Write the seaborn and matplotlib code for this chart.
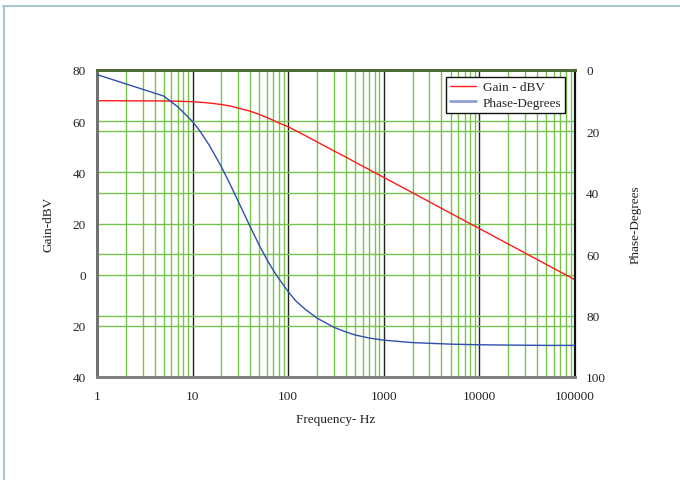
import numpy as np
import pandas as pd
import matplotlib
matplotlib.use("Agg")
import matplotlib.pyplot as plt
import matplotlib.ticker as mticker
from matplotlib.transforms import blended_transform_factory
from matplotlib.lines import Line2D
import seaborn as sns

# ---- data ----
freq_hz = [1, 5, 7, 10, 12, 15, 20, 25, 30, 40, 50, 60, 70, 80, 100, 120, 150,
           200, 300, 400, 500, 700, 1000, 2000, 5000, 10000, 20000, 50000, 100000]
gain_dbv = [68.0, 67.9, 67.8, 67.6, 67.4, 67.1, 66.5, 65.9, 65.1, 63.9, 62.6,
            61.4, 60.3, 59.3, 57.8, 56.3, 54.4, 51.9, 48.4, 46.0, 44.0, 41.1,
            38.0, 32.0, 24.0, 18.0, 12.0, 4.0, -2.0]
phase_deg = [1.5, 8.5, 12.0, 16.8, 20.0, 24.6, 31.5, 37.6, 42.8, 51.0, 57.2,
             61.8, 65.3, 68.0, 72.2, 75.2, 77.9, 80.8, 83.8, 85.3, 86.3, 87.3,
             88.0, 88.8, 89.3, 89.5, 89.6, 89.7, 89.7]

x_ticks = [1, 10, 100, 1000, 10000, 100000]
x_tick_labels = ["1", "10", "100", "1000", "10000", "100000"]
gain_ticks = [80, 60, 40, 20, 0, -20, -40]
gain_tick_labels = ["80", "60", "40", "20", "0", "20", "40"]
phase_ticks = [0, 20, 40, 60, 80, 100]
phase_tick_labels = ["0", "20", "40", "60", "80", "100"]

df = pd.DataFrame({"freq": freq_hz, "gain": gain_dbv, "phase": phase_deg})

sns.set_theme(style="white")
plt.rcParams["font.family"] = ["Liberation Serif", "DejaVu Serif"]

fig = plt.figure(figsize=(6.8, 4.81), dpi=100)
ax = fig.add_axes([97/680, 1-378/481, (575-97)/680, (378-71)/481])
ax2 = ax.twinx()

GREEN = "#78c24e"
ax.set_xscale("log")
ax.set_xlim(1, 100000)
ax.set_ylim(-40, 80)
ax2.set_ylim(100, 0)

# grid lines
ax.set_xticks(x_ticks)
ax.xaxis.set_minor_locator(mticker.LogLocator(base=10, subs=np.arange(2, 10), numticks=20))
ax.xaxis.set_minor_formatter(mticker.NullFormatter())
ax.grid(which="minor", axis="x", color=GREEN, lw=1.0)
ax.grid(which="major", axis="x", color="#222222", lw=1.0)
ax.set_yticks(gain_ticks)
ax.grid(which="major", axis="y", color=GREEN, lw=1.0)
tr = blended_transform_factory(ax.transAxes, ax2.transData)
for v in phase_ticks[1:-1]:
    ax.plot([0, 1], [v, v], transform=tr, color=GREEN, lw=1.0, zorder=0.6)

sns.lineplot(data=df, x="freq", y="gain", ax=ax, color="#ff1a1a", lw=1.0,
             label="Gain - dBV", legend=False, zorder=3)
sns.lineplot(data=df, x="freq", y="phase", ax=ax2, color="#2f4fae", lw=1.0,
             label="Phase-Degrees", legend=False, zorder=3)

ax.set_xticklabels(x_tick_labels)
ax.set_yticklabels(gain_tick_labels)
ax2.set_yticks(phase_ticks)
ax2.set_yticklabels(phase_tick_labels)
ax2.grid(False)

FS = 9.5
for a in (ax, ax2):
    a.tick_params(length=0, labelsize=FS, colors="#222222")
ax.tick_params(axis="x", pad=9)
ax.tick_params(axis="y", pad=8)
ax2.tick_params(axis="y", pad=8)

ax.set_xlabel("Frequency- Hz", fontsize=FS, labelpad=8, color="#222222")
ax.set_ylabel("Gain-dBV", fontsize=FS, labelpad=13, color="#222222")
ax2.set_ylabel("Phase-Degrees", fontsize=FS, labelpad=17, color="#222222")

for a in (ax, ax2):
    a.spines["top"].set_color("#4b6b35")
    a.spines["top"].set_linewidth(2)
    a.spines["left"].set_color("#707070")
    a.spines["left"].set_linewidth(2)
    a.spines["bottom"].set_color("#808080")
    a.spines["bottom"].set_linewidth(2)
    a.spines["right"].set_color("#111111")
    a.spines["right"].set_linewidth(1.5)

handles = [Line2D([], [], color="#ff1a1a", lw=1.0),
           Line2D([], [], color="#8fa0d6", lw=2.0)]
leg = ax2.legend(handles, ["Gain - dBV", "Phase-Degrees"], loc="upper right",
                 bbox_to_anchor=(0.985, 0.985), fontsize=FS, frameon=True,
                 fancybox=False, framealpha=1, edgecolor="#111111",
                 borderpad=0.3, handlelength=2.0, labelspacing=0.25,
                 handletextpad=0.5, borderaxespad=0.2)
leg.get_frame().set_linewidth(1.0)

# outer page border (top and left)
fig.add_artist(Line2D([3/680, 1], [1-6.5/481, 1-6.5/481], color="#a9c4cc", lw=1.5,
                      transform=fig.transFigure))
fig.add_artist(Line2D([3.5/680, 3.5/680], [0, 1-6.5/481], color="#a9c4cc", lw=1.5,
                      transform=fig.transFigure))

fig.savefig("out.png", dpi=100)
